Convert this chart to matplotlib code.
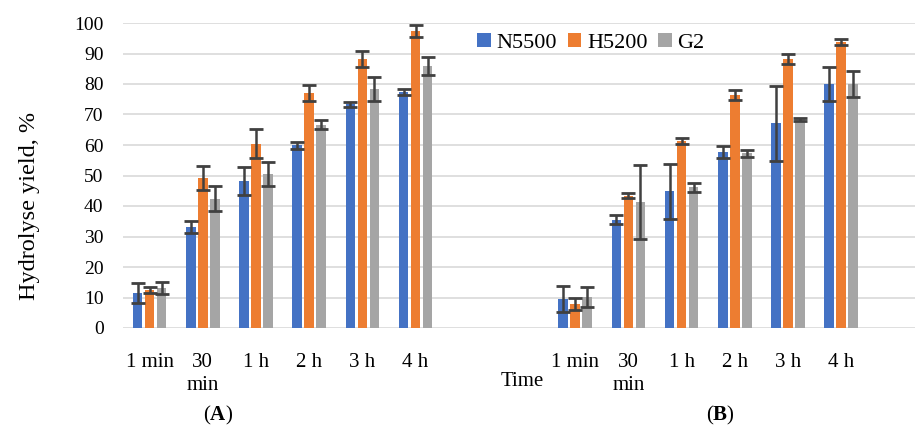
import numpy as np
import matplotlib.pyplot as plt

plt.rcParams['font.family'] = ['Liberation Serif', 'DejaVu Serif']
plt.rcParams['mathtext.fontset'] = 'custom'
plt.rcParams['mathtext.rm'] = 'Liberation Serif'
plt.rcParams['mathtext.bf'] = 'Liberation Serif:bold'

# Data
times = ['1 min', '30\nmin', '1 h', '2 h', '3 h', '4 h']
series = ['N5500', 'H5200', 'G2']
colors = ['#4472C4', '#ED7D31', '#A5A5A5']

a_n5500 = [11.5, 33.0, 48.3, 59.9, 73.3, 77.3]
a_h5200 = [12.6, 49.2, 60.4, 77.0, 88.2, 97.3]
a_g2 = [13.1, 42.4, 50.6, 66.7, 78.4, 86.0]
a_n5500_err = [3.3, 2.0, 4.6, 1.2, 0.8, 1.0]
a_h5200_err = [1.0, 3.8, 4.8, 2.6, 2.5, 2.0]
a_g2_err = [2.0, 4.2, 3.9, 1.4, 4.0, 3.0]

b_n5500 = [9.5, 35.5, 44.8, 57.6, 67.2, 80.0]
b_h5200 = [8.0, 43.4, 61.2, 76.5, 88.3, 93.8]
b_g2 = [10.2, 41.3, 46.1, 57.3, 68.5, 79.9]
b_n5500_err = [4.4, 1.4, 9.0, 2.0, 12.3, 5.5]
b_h5200_err = [2.0, 0.7, 1.0, 1.6, 1.7, 1.1]
b_g2_err = [3.2, 12.0, 1.6, 1.2, 0.5, 4.3]

# category axis: A block, two empty slots, B block, one empty slot
categories = times + ['', ''] + times + ['']
gap = [np.nan, np.nan]


def full(a, b):
    return np.array(a + gap + b + [np.nan], dtype=float)


vals = [full(a_n5500, b_n5500), full(a_h5200, b_h5200), full(a_g2, b_g2)]
errs = [full(a_n5500_err, b_n5500_err), full(a_h5200_err, b_h5200_err),
        full(a_g2_err, b_g2_err)]

fig = plt.figure(figsize=(9.15, 4.28), dpi=100)
ax = fig.add_axes([123 / 915, 100 / 428, 792 / 915, 305 / 428])

x = np.arange(len(categories))
width = 0.18
offsets = [-0.226, 0, 0.226]
for v, e, c, name, off in zip(vals, errs, colors, series, offsets):
    ax.bar(x + off, v, width, color=c, label=name, zorder=2)
    ax.errorbar(x + off, v, yerr=e, fmt='none', ecolor='#404040',
                elinewidth=1.8, capsize=5, capthick=2, zorder=3)

ax.set_xlim(-0.5, -0.5 + 792 / 53.2)
ax.set_ylim(0, 100)
ax.set_yticks(range(0, 101, 10))
ax.yaxis.grid(True, color='#D9D9D9', linewidth=1.2, zorder=0)
ax.set_axisbelow(True)
for s in ax.spines.values():
    s.set_visible(False)
ax.tick_params(axis='both', length=0)
ax.tick_params(axis='y', labelsize=14, pad=14)
ax.set_xticks(x)
ax.set_xticklabels(categories, fontsize=15, va='top', linespacing=1.3)
ax.tick_params(axis='x', pad=18)

fig.text(30 / 915, 1 - 206 / 428, 'Hydrolyse yield, %', rotation=90,
         ha='center', va='center', fontsize=17.5)
fig.text(522 / 915, 1 - 382 / 428, 'Time', ha='center', va='center', fontsize=15)
fig.text(218 / 915, 1 - 415 / 428, r'($\mathbf{A}$)', ha='center', va='center',
         fontsize=15)
fig.text(720 / 915, 1 - 415 / 428, r'($\mathbf{B}$)', ha='center', va='center',
         fontsize=15)

ax.legend(loc='center', bbox_to_anchor=(591 / 915, 1 - 43 / 428),
          bbox_transform=fig.transFigure, ncol=3, frameon=False,
          fontsize=16, handlelength=0.6, handleheight=0.6,
          handletextpad=0.25, columnspacing=0.5, borderpad=0)

fig.savefig('out.png', dpi=100)
